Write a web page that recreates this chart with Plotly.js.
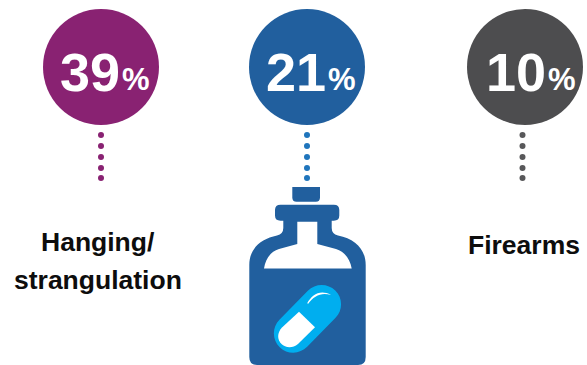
<!DOCTYPE html>
<html>
<head>
<meta charset="utf-8">
<script src="https://cdn.plot.ly/plotly-3.0.1.min.js"></script>
<style>html,body{margin:0;padding:0;background:#fff}#chart{width:587px;height:365px}</style>
</head>
<body>
<div id="chart"></div>
<script>
// Leading methods and their share of cases
const percents = [39, 21, 10];
const labelLines = ["Hanging/", "strangulation", "Firearms"];
const labelLineX = [98, 98, 524];
const labelLineY = [242, 280, 245];
const circleColors = ["#892272", "#215F9E", "#4D4D4F"];
const stemColors = ["#892272", "#1F75BC", "#58585A"];
const circleX = [101, 307, 525];
const stemX = [101, 307, 522.5];
const circleY = 67;
const stemY = [135, 146, 157, 168, 178];
const numberX = [59, 265, 485];
const percentX = [121, 327, 547];

const FONT = '"Liberation Sans", Arial, sans-serif';

// Circles behind each figure
const traces = [{
  type: "scatter", mode: "markers", x: circleX, y: circleX.map(() => circleY),
  marker: {size: 116, color: circleColors, line: {width: 0}}, hoverinfo: "skip"
}];

// Dotted stem below each circle
stemX.forEach((x, i) => traces.push({
  type: "scatter", mode: "markers", x: stemY.map(() => x), y: stemY,
  marker: {size: 6, color: stemColors[i], line: {width: 0}}, hoverinfo: "skip"
}));

const annotations = [];
const note = (x, y, text, size, color, xanchor) => annotations.push({
  xref: "x", yref: "y", x, y, text, showarrow: false, xanchor, yanchor: "middle",
  align: "center", borderpad: 0, font: {family: FONT, size, color, weight: 700}
});
percents.forEach((p, i) => {
  note(numberX[i], 71.5, String(p), 54, "#fff", "left");
  note(percentX[i], 79, "%", 31, "#fff", "left");
});
labelLines.forEach((t, i) => note(labelLineX[i], labelLineY[i], t, 26.5, "#0d0d0d", "center"));

// Bottle pictogram
const bottleBlue = "#215F9E";
const cyan = "#00AEEF";
const solid = (path, fillcolor) => ({type: "path", path, fillcolor, line: {width: 0}, layer: "above"});
const capsule = (x0, y0, x1, y1, r) => {
  const d = Math.hypot(x1 - x0, y1 - y0), ux = (x1 - x0) / d, uy = (y1 - y0) / d;
  const nx = -uy * r, ny = ux * r, tx = ux * r, ty = uy * r, k = 0.5523;
  const pt = (x, y) => `${x.toFixed(2)},${y.toFixed(2)}`;
  return `M${pt(x0 + nx, y0 + ny)} L${pt(x1 + nx, y1 + ny)} ` +
    `C${pt(x1 + nx + k * tx, y1 + ny + k * ty)} ${pt(x1 + tx + k * nx, y1 + ty + k * ny)} ${pt(x1 + tx, y1 + ty)} ` +
    `C${pt(x1 + tx - k * nx, y1 + ty - k * ny)} ${pt(x1 - nx + k * tx, y1 - ny + k * ty)} ${pt(x1 - nx, y1 - ny)} ` +
    `L${pt(x0 - nx, y0 - ny)} ` +
    `C${pt(x0 - nx - k * tx, y0 - ny - k * ty)} ${pt(x0 - tx - k * nx, y0 - ty - k * ny)} ${pt(x0 - tx, y0 - ty)} ` +
    `C${pt(x0 - tx + k * nx, y0 - ty + k * ny)} ${pt(x0 + nx - k * tx, y0 + ny - k * ty)} ${pt(x0 + nx, y0 + ny)} Z`;
};
const shapes = [
  // stopper
  solid("M292.3,187 L320,187 L320,197.5 Q320,201.7 315.8,201.7 L296.5,201.7 Q292.3,201.7 292.3,197.5 Z", bottleBlue),
  // glass outline with flange, neck and shoulders
  solid("M280.5,204.7 L333.8,204.7 Q339.3,204.7 339.3,210 L339.3,215.5 Q339.3,220.7 333.8,220.7 L331.7,220.7 L331.7,228 " +
        "Q331.7,234 338,235.5 C355,239 365.7,249 365.7,265 L365.7,357 Q365.7,365 358,365 L257,365 Q249.3,365 249.3,357 " +
        "L249.3,265 C249.3,249 260,239 277,235.5 Q283.3,234 283.3,228 L283.3,220.7 L280.5,220.7 Q275,220.7 275,215.5 " +
        "L275,210 Q275,204.7 280.5,204.7 Z", bottleBlue),
  // empty space inside the neck
  solid("M297.3,221.7 L317.3,221.7 L317.3,244 L336,249 C345,252 350,259 351.7,268.5 L264,268.5 " +
        "C265.5,259 270,252 279,249 L297.3,244 Z", "#fff"),
  // capsule
  solid(capsule(293.3, 333.3, 321.7, 304.3, 19.4), cyan),
  solid("M299,311.7 L315,327.3 L298,344 C292,349 285,347.5 281.5,344 C277,339.5 277,333 282,327.5 Z", "#fff"),
  solid("M307.3,303 C312,295 320,289 331,295 C321,292 314,296 308,304 Z", "#fff")
];

Plotly.newPlot("chart", traces, {
  width: 587, height: 365, showlegend: false,
  margin: {l: 0, r: 0, t: 0, b: 0},
  paper_bgcolor: "#fff", plot_bgcolor: "#fff",
  xaxis: {range: [0, 587], visible: false, fixedrange: true},
  yaxis: {range: [365, 0], visible: false, fixedrange: true},
  shapes, annotations
}, {displayModeBar: false, staticPlot: true});
</script>
</body>
</html>
